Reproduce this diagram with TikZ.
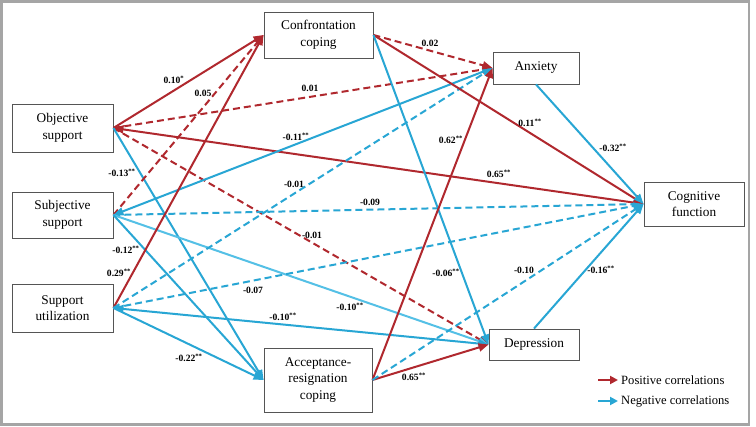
\documentclass[tikz,border=0pt]{standalone}
\usepackage{fontspec}
\setmainfont{Liberation Serif}
\usetikzlibrary{arrows.meta}
\definecolor{cred}{RGB}{176,40,46}
\definecolor{cblue}{RGB}{40,166,212}
\definecolor{clblue}{RGB}{84,192,230}
\definecolor{cframe}{RGB}{165,165,165}
\definecolor{cbox}{RGB}{85,85,85}
\begin{document}
\begin{tikzpicture}[x=1pt,y=-1pt,
  box/.style={draw=cbox, line width=0.9pt, fill=white, align=center,
    font=\fontsize{13.3}{16.5}\selectfont, inner sep=0pt},
  tip/.style={-{Triangle[length=10pt,width=8pt]}},
  posarr/.style={draw=cred, line width=2pt, tip},
  negarr/.style={draw=cblue, line width=2pt, tip},
  both/.style={{Triangle[length=10pt,width=8pt]}-{Triangle[length=10pt,width=8pt]}},
  dsh/.style={dash pattern=on 7pt off 4pt},
  lbl/.style={font=\bfseries\fontsize{9.6}{10}\selectfont, inner sep=0pt},
  legtxt/.style={font=\fontsize{12.6}{14}\selectfont, anchor=west, inner sep=0pt}]
\useasboundingbox (0,0) rectangle (756,427);
\fill[white] (0,0) rectangle (756,427);
\draw[cframe, line width=2.5pt] (1.5,1.5) rectangle (749,424.5);

% nodes
\node[box, minimum width=101pt, minimum height=48pt] (obj) at (62.5,128) {Objective\\support};
\node[box, minimum width=101pt, minimum height=46pt] (subj) at (62.5,215) {Subjective\\support};
\node[box, minimum width=101pt, minimum height=48pt] (util) at (62.5,308) {Support\\utilization};
\node[box, minimum width=109pt, minimum height=46pt] (conf) at (318.5,35) {Confrontation\\coping};
\node[box, minimum width=86pt, minimum height=32pt] (anx) at (536,68) {Anxiety};
\node[box, minimum width=100pt, minimum height=44pt] (cog) at (694,204) {Cognitive\\function};
\node[box, minimum width=90pt, minimum height=31pt] (dep) at (534,344.5) {Depression};
\node[box, minimum width=108pt, minimum height=64pt] (acc) at (318,380) {Acceptance-\\resignation\\coping};

% edges from Objective support
\draw[posarr] (obj.east) -- (conf.west);
\draw[posarr, dsh] (obj.east) -- (anx.west);
\draw[posarr, both] (obj.east) -- (cog.west);
\draw[posarr, dsh] (obj.east) -- (dep.west);
\draw[negarr] (obj.east) -- (acc.west);

% edges from Subjective support
\draw[posarr, dsh] (subj.east) -- (conf.west);
\draw[negarr, both] (subj.east) -- (anx.west);
\draw[negarr, dsh] (subj.east) -- (cog.west);
\draw[negarr, draw=clblue] (subj.east) -- (dep.west);
\draw[negarr] (subj.east) -- (acc.west);

% edges from Support utilization
\draw[posarr] (util.east) -- (conf.west);
\draw[negarr, dsh] (util.east) -- (anx.west);
\draw[negarr, dsh] (util.east) -- (cog.west);
\draw[negarr, both] (util.east) -- (dep.west);
\draw[negarr] (util.east) -- (acc.west);

% edges from Confrontation coping
\draw[posarr, dsh] (conf.east) -- (anx.west);
\draw[posarr] (conf.east) -- (cog.west);
\draw[negarr] (conf.east) -- (dep.west);

% edges from Acceptance-resignation coping
\draw[posarr] (acc.east) -- (anx.west);
\draw[posarr] (acc.east) -- (dep.west);
\draw[negarr, dsh] (acc.east) -- (cog.west);

% mediators to cognitive function
\draw[negarr] (anx.south) -- (cog.west);
\draw[negarr] (dep.north) -- (cog.west);

% labels
\node[lbl] (l1) at (174,80) {0.10\textsuperscript{*}};
\node[lbl] (l2) at (203,93) {0.05};
\node[lbl] (l3) at (310,88) {0.01};
\node[lbl] (l4) at (296,137) {-0.11\textsuperscript{**}};
\node[lbl] (l5) at (122,173) {-0.13\textsuperscript{**}};
\node[lbl] (l6) at (294,184) {-0.01};
\node[lbl] (l7) at (370,202) {-0.09};
\node[lbl] (l8) at (312,235) {-0.01};
\node[lbl] (l9) at (126,250) {-0.12\textsuperscript{**}};
\node[lbl] (l10) at (119,273) {0.29\textsuperscript{**}};
\node[lbl] (l11) at (253,290) {-0.07};
\node[lbl] (l12) at (350,307) {-0.10\textsuperscript{**}};
\node[lbl] (l13) at (283,317) {-0.10\textsuperscript{**}};
\node[lbl] (l14) at (189,358) {-0.22\textsuperscript{**}};
\node[lbl] (l15) at (430,43) {0.02};
\node[lbl] (l16) at (530,123) {0.11\textsuperscript{**}};
\node[lbl] (l17) at (451,140) {0.62\textsuperscript{**}};
\node[lbl] (l18) at (613,148) {-0.32\textsuperscript{**}};
\node[lbl] (l19) at (499,174) {0.65\textsuperscript{**}};
\node[lbl] (l20) at (446,273) {-0.06\textsuperscript{**}};
\node[lbl] (l21) at (524,270) {-0.10};
\node[lbl] (l22) at (601,270) {-0.16\textsuperscript{**}};
\node[lbl] (l23) at (414,377) {0.65\textsuperscript{**}};

% legend
\coordinate (pa) at (598,380);
\coordinate (pb) at (618,380);
\coordinate (na) at (598,401);
\coordinate (nb) at (618,401);
\draw[posarr, line width=2.2pt, -{Triangle[length=8pt,width=8pt]}] (pa) -- (pb);
\draw[negarr, line width=2.2pt, -{Triangle[length=8pt,width=8pt]}] (na) -- (nb);
\node[legtxt] (lp) at (621,380) {Positive correlations};
\node[legtxt] (ln) at (621,401) {Negative correlations};
\end{tikzpicture}
\end{document}
